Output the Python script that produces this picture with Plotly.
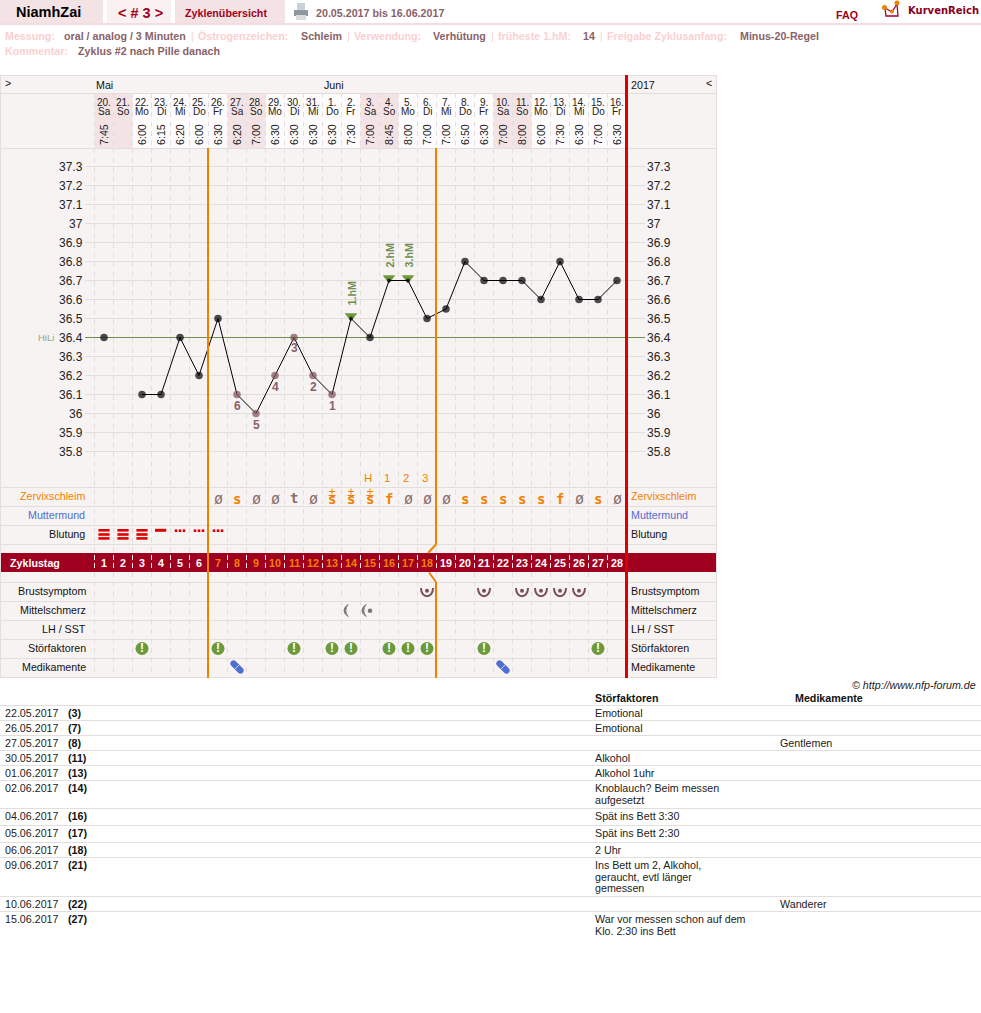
import plotly.graph_objects as go

# ---------------- data ----------------
CYCLE_DAYS = list(range(1, 29))
DATES = ["20.","21.","22.","23.","24.","25.","26.","27.","28.","29.","30.","31.","1.","2.","3.","4.","5.","6.","7.","8.","9.","10.","11.","12.","13.","14.","15.","16."]
WEEKDAYS = ["Sa","So","Mo","Di","Mi","Do","Fr","Sa","So","Mo","Di","Mi","Do","Fr","Sa","So","Mo","Di","Mi","Do","Fr","Sa","So","Mo","Di","Mi","Do","Fr"]
TIMES = ["7:45",None,"6:00","6:15","6:20","6:00","6:30","6:20","7:00","6:30","6:30","6:30","6:30","7:30","7:00","8:45","8:00","7:00","7:00","6:50","6:30","7:00","8:00","6:00","7:30","6:30","7:00","6:30"]
TEMPS = [36.4,None,36.1,36.1,36.4,36.2,36.5,36.1,36.0,36.2,36.4,36.2,36.1,36.5,36.4,36.7,36.7,36.5,36.55,36.8,36.7,36.7,36.7,36.6,36.8,36.6,36.6,36.7]
TEMP_TICKS = [37.3,37.2,37.1,37.0,36.9,36.8,36.7,36.6,36.5,36.4,36.3,36.2,36.1,36.0,35.9,35.8]
TEMP_TICK_LABELS = ["37.3","37.2","37.1","37","36.9","36.8","36.7","36.6","36.5","36.4","36.3","36.2","36.1","36","35.9","35.8"]
COVER_LINE = 36.4
LOW_DAYS = [13,12,11,10,9,8]          # counted 1..6
PEAK_DAYS = [14,16,17]
PEAK_LABELS = ["1.hM","2.hM","3.hM"]
MARK_DAYS = [15,16,17,18]
MARK_LABELS = ["H","1","2","3"]
MUCUS = [None]*6 + ["ø","s","ø","ø","t","ø","s+","s+","s+","f","ø","ø","ø","s","s","s","s","s","f","ø","s","ø"]
BLEED_HEAVY = [1,2,3]
BLEED_MEDIUM = [4]
BLEED_SPOT = [5,6,7]
BREAST_DAYS = [18,21,23,24,25,26]
PAIN_LEFT_DAYS = [14]
PAIN_DOT_DAYS = [15]
DISTURB_DAYS = [3,7,11,13,14,16,17,18,21,27]
MED_DAYS = [8,22]
FERTILE_FROM_DAY = 7
FERTILE_TO_DAY = 18
WEEKEND_DAYS = [1,2,8,9,15,16,22,23]

NOTE_DATES = ["22.05.2017","26.05.2017","27.05.2017","30.05.2017","01.06.2017","02.06.2017","04.06.2017","05.06.2017","06.06.2017","09.06.2017","10.06.2017","15.06.2017"]
NOTE_CYCLE = ["(3)","(7)","(8)","(11)","(13)","(14)","(16)","(17)","(18)","(21)","(22)","(27)"]
NOTE_FACTORS = [["Emotional"],["Emotional"],[],["Alkohol"],["Alkohol 1uhr"],["Knoblauch? Beim messen","aufgesetzt"],["Spät ins Bett 3:30"],["Spät ins Bett 2:30"],["2 Uhr"],["Ins Bett um 2, Alkohol,","geraucht, evtl länger","gemessen"],[],["War vor messen schon auf dem","Klo. 2:30 ins Bett"]]
NOTE_MEDS = ["","","Gentlemen","","","","","","","","Wanderer",""]

# ---------------- page scale ----------------
W, H = 981, 1013
def xp(px): return (px - 85) / 19            # page pixel -> cycle-day axis
def yp(py): return 37.3 - (py - 166.5) / 190 # page pixel -> temperature axis
def ty(t): return 166.5 + (37.3 - t) * 190   # temperature -> page pixel

ARIAL = "Liberation Sans"
MONO = "DejaVu Sans Mono"
F = 10.7
RED = "#a00020"
BROWN = "#8a6167"
DARKBROWN = "#7a4f55"
PALE = "#fbd0d0"
BG = "#f8f3f3"
PINK = "#f4e3e5"
GRID = "#e2dedd"
ORANGE = "#f28000"
BLUE = "#4f6fd0"
GREEN = "#6b9a3a"
BAR = "#a00020"
REDLINE = "#dd0000"

shapes, annos = [], []

def rect(x0, y0, x1, y1, fill, layer="below"):
    shapes.append(dict(type="rect", xref="x", yref="y", x0=xp(x0), x1=xp(x1), y0=yp(y0), y1=yp(y1),
                       fillcolor=fill, line=dict(width=0), layer=layer))

def line(x0, y0, x1, y1, color=GRID, width=1, dash=None, layer="below"):
    shapes.append(dict(type="line", xref="x", yref="y", x0=xp(x0), x1=xp(x1), y0=yp(y0), y1=yp(y1),
                       line=dict(color=color, width=width, dash=dash or "solid"), layer=layer))

def T(x, y, s, size=F, color="#111", anchor="left", bold=False, italic=False, family=ARIAL, angle=0):
    if bold: s = f"<b>{s}</b>"
    if italic: s = f"<i>{s}</i>"
    annos.append(dict(x=xp(x - 1 if anchor == "left" else x), y=yp(y), xref="x", yref="y", text=s, showarrow=False,
                      xanchor=anchor, yanchor="middle", borderpad=0, textangle=angle,
                      font=dict(family=family, size=size, color=color)))

def glyph(day, py, path, stroke=None, width=0, fill=None):
    shapes.append(dict(type="path", xref="x", yref="y", xsizemode="pixel", ysizemode="pixel",
                       xanchor=day, yanchor=yp(py), path=path, layer="above",
                       line=dict(color=stroke or "rgba(0,0,0,0)", width=width),
                       fillcolor=fill or "rgba(0,0,0,0)"))

# ---------------- page header ----------------
rect(0, 0, 103, 23, PINK)
rect(107, 0, 171, 23, "#f9f0f1")
rect(175, 0, 285, 23, PINK)
rect(0, 23, W, 25, "#f4dde0")
T(48.5, 12, "NiamhZai", 14.5, "#000", "center", True)
T(140, 12.5, "&lt; # 3 &gt;", 14.5, RED, "center", True)
T(185, 12.5, "Zyklenübersicht", F, RED, bold=True)
T(316, 12.5, "20.05.2017 bis 16.06.2017", F, BROWN, bold=True)
T(836, 14.5, "FAQ", F, RED, bold=True)
T(908, 10.5, "KurvenReich", 10, "#8a0020", bold=True, family="DejaVu Sans")

# printer icon
rect(297, 3, 305, 11, "#c9d2dc")
rect(294, 10, 308, 16, "#8e979e")
rect(296, 15, 306, 20, "#d9dde0")
# logo
shapes.append(dict(type="path", xref="x", yref="y", layer="below",
    path=f"M {xp(885)},{yp(8)} L {xp(886)},{yp(16)} L {xp(898)},{yp(16)} L {xp(897)},{yp(4)} L {xp(892)},{yp(12)} L {xp(885)},{yp(8)}",
    line=dict(color="#a00040", width=1.3)))
for cx, cy, r in [(884.5, 7.5, 2.5), (892, 11.5, 2), (897, 3, 2.5)]:
    shapes.append(dict(type="circle", xref="x", yref="y", layer="below", x0=xp(cx-r), x1=xp(cx+r), y0=yp(cy-r), y1=yp(cy+r),
                       fillcolor="#f08000", line=dict(width=0)))

for x, s in [(5,"Messung:"),(198,"Östrogenzeichen:"),(354,"Verwendung:"),(498,"früheste 1.hM:"),(607,"Freigabe Zyklusanfang:")]:
    T(x, 36, s, F, PALE, bold=True)
for x in [191,347,491,600]:
    T(x, 36, "|", F, PALE)
for x, s in [(64,"oral / analog / 3 Minuten"),(301,"Schleim"),(433,"Verhütung"),(583,"14"),(740,"Minus-20-Regel")]:
    T(x, 36, s, F, BROWN, bold=True)
T(5, 51, "Kommentar:", F, PALE, bold=True)
T(78, 51, "Zyklus #2 nach Pille danach", F, BROWN, bold=True)

# ---------------- chart frame ----------------
rect(0, 75, 717, 678, BG)
rect(94.5, 93, 626, 148, "#fdfbfb")
for d in WEEKEND_DAYS:
    rect(85 + 19*d - 9.5, 93, 85 + 19*d + 9.5, 148, "#f4e3e5")
rect(0, 553, 626, 572, BAR)
rect(628, 553, 717, 572, BAR)
for y in [75, 93, 148, 487, 506, 525, 544, 582, 601, 620, 639, 658, 677]:
    line(0.5, y + 0.5, 717, y + 0.5)
line(0.5, 75, 0.5, 678)
line(716.5, 75, 716.5, 678)

# temperature grid (through the temperature axis itself)
for t in TEMP_TICKS:
    shapes.append(dict(type="line", xref="x", yref="y", x0=xp(85), x1=xp(645), y0=t, y1=t,
                       line=dict(color=GRID, width=1), layer="below"))
for k in range(29):
    x = 94.5 + 19*k
    line(x, 148, x, 553, dash="5px,4.5px")
    line(x, 572, x, 677, dash="5px,4.5px")
    line(x, 93, x, 148, dash="5px,4.5px")
    if k < 28:
        line(x, 555, x, 571, "#f8e8e8", 1, "5px,3px")
shapes.append(dict(type="line", xref="x", yref="y", x0=xp(85), x1=xp(645), y0=COVER_LINE, y1=COVER_LINE,
                   line=dict(color="#6f8f4f", width=1), layer="below"))

# cycle phase and end lines
ax = 85 + 19*(FERTILE_FROM_DAY - 0.5) - 0.5
bx = 85 + 19*(FERTILE_TO_DAY + 0.5) - 0.5
line(ax, 148, ax, 678, ORANGE, 2, layer="above")
for x0, y0, x1, y1 in [(bx,148,bx,544.5),(bx,544.5,bx-8,553),(bx-7,572.5,bx,582),(bx,582,bx,678)]:
    line(x0, y0, x1, y1, ORANGE, 2, layer="above")
rect(625, 75, 628, 678, REDLINE, "above")

# ---------------- header texts ----------------
T(5, 83, "&gt;", F, "#111")
T(706, 83, "&lt;", F, "#111")
T(96, 85, "Mai", F)
T(324, 85, "Juni", F)
T(631, 85, "2017", F)
for d, ds, wd, tm in zip(CYCLE_DAYS, DATES, WEEKDAYS, TIMES):
    x = 85 + 19*d
    T(x, 102, ds, 10, "#222", "center")
    T(x, 111.5, wd, 10, "#222", "center")
    if tm:
        T(x, 135, tm, F, "#222", "center", angle=-90)

# ---------------- temperature labels ----------------
for t, lab in zip(TEMP_TICKS, TEMP_TICK_LABELS):
    T(84, ty(t), lab, 12, "#222", "right")
    T(647, ty(t), lab, 12, "#222", "left")
T(55, 337, "HiLi", 9.5, "#8fa878", "right")

# ---------------- row labels ----------------
T(85.5, 496, "Zervixschleim", F, ORANGE, "right")
T(85.5, 515, "Muttermund", F, BLUE, "right")
T(85.5, 534, "Blutung", F, "#111", "right")
for y, s in [(591,"Brustsymptom"),(610,"Mittelschmerz"),(629,"LH / SST"),(648,"Störfaktoren"),(667,"Medikamente")]:
    T(87, y, s, F, "#111", "right")
for y, s, c in [(496,"Zervixschleim",ORANGE),(515,"Muttermund",BLUE),(534,"Blutung","#111"),(591,"Brustsymptom","#111"),(610,"Mittelschmerz","#111"),(629,"LH / SST","#111"),(648,"Störfaktoren","#111"),(667,"Medikamente","#111")]:
    T(631, y, s, F, c)
T(10, 563, "Zyklustag", F, "#fff", bold=True)
for d in CYCLE_DAYS:
    c = ORANGE if FERTILE_FROM_DAY <= d <= FERTILE_TO_DAY else "#fff"
    T(85 + 19*d, 563, str(d), F, c, "center", True)

# ---------------- symptom rows ----------------
for d, lab in zip(MARK_DAYS, MARK_LABELS):
    T(85 + 19*d - 2, 478, lab, 11.5, ORANGE, "center")
for d, m in zip(CYCLE_DAYS, MUCUS):
    if not m:
        continue
    x = 85 + 19*d
    if m == "ø":
        T(x, 498.5, "ø", 15, "#8a6a6a", "center", family=MONO)
    elif m == "t":
        T(x, 498, "t", 14, "#8a6a6a", "center", True, family=MONO)
    elif m == "s+":
        T(x, 499, "s", 14, ORANGE, "center", True, family=MONO)
        glyph(d, 491.5, "M -3,0 L 3,0 M 0,-3 L 0,3", ORANGE, 1)
        glyph(d, 495.5, "M -3.5,0 L 3.5,0", ORANGE, 1)
    else:
        T(x, 499, m, 14, ORANGE, "center", True, family=MONO)

for d, lab in zip(LOW_DAYS[::-1], ["6","5","4","3","2","1"]):
    T(85 + 19*d, ty(TEMPS[d-1]) + (10.5 if lab == "3" else 11.5), lab, 12, BROWN, "center", True)
for d, lab in zip(PEAK_DAYS, PEAK_LABELS):
    T(85 + 19*d, ty(TEMPS[d-1]) - 25, lab, F, "#6f8f50", "center", True, angle=-90)

# pictograms anchored on the day axis
for d in BREAST_DAYS:
    glyph(d, 590, "M -6,2 C -6,-9 6,-9 6,2", DARKBROWN, 2)
for d in PAIN_LEFT_DAYS:
    glyph(d, 610.5, "M -3,6 Q -11,0 -3,-6 Q -7.5,0 -3,6 Z", "#777", 1, "#777")
for d in PAIN_DOT_DAYS:
    glyph(d, 610.5, "M -4,6 Q -12,0 -4,-6 Q -8.5,0 -4,6 Z", "#777", 1, "#777")
for d in MED_DAYS:
    # capsule lying diagonally, two halves with a pale seam
    glyph(d, 667, "M -1.24,5.76 L 5.76,-1.24 C 8.76,-4.24 4.24,-8.76 1.24,-5.76 L -5.76,1.24 C -8.76,4.24 -4.24,8.76 -1.24,5.76 Z", None, 0, BLUE)
    glyph(d, 667, "M -2.3,-2.3 L 2.3,2.3", "#c8d2f0", 1)

# ---------------- notes table ----------------
T(977, 685, "©&nbsp;http://www.nfp-forum.de", F, "#222", "right", italic=True)
T(595, 698, "Störfaktoren", F, "#111", bold=True)
T(795, 698, "Medikamente", F, "#111", bold=True)
for y in [705, 720, 735, 750, 765, 780, 808, 825, 842, 857, 896, 911]:
    line(0, y + 0.5, W, y + 0.5)
NOTE_Y = [713, 728, 743, 758, 773, 788, 816, 833, 850, 865, 904, 919]
for y, dt, c, fac, med in zip(NOTE_Y, NOTE_DATES, NOTE_CYCLE, NOTE_FACTORS, NOTE_MEDS):
    T(5, y, dt, F, "#222")
    T(68, y, c, F, "#111", bold=True)
    for i, s in enumerate(fac):
        T(595, y + i*11.5, s, F, "#222")
    if med:
        T(780, y, med, F, "#222")

# ---------------- traces ----------------
fig = go.Figure()
fig.add_scatter(x=PEAK_DAYS, y=[TEMPS[d-1] + 2.5/190 for d in PEAK_DAYS], mode="markers",
                marker=dict(symbol="triangle-down", size=11, color=GREEN, line=dict(width=0)))
colors = [DARKBROWN if d in LOW_DAYS else "#000" for d in CYCLE_DAYS]
sizes = [4 if d in PEAK_DAYS else 7.5 for d in CYCLE_DAYS]
fig.add_scatter(x=CYCLE_DAYS, y=TEMPS, mode="lines+markers", connectgaps=False,
                line=dict(color="#000", width=1),
                marker=dict(symbol="circle", size=sizes, color=colors, line=dict(width=0)))
# bleeding
hx, hy = [], []
for d in BLEED_HEAVY:
    for py in (530.3, 534.5, 538.4):
        hx.append(d); hy.append(yp(py))
fig.add_scatter(x=hx, y=hy, mode="markers",
                marker=dict(symbol="line-ew", size=8, line=dict(color=REDLINE, width=2.6)))
fig.add_scatter(x=[d - 0.02 for d in BLEED_MEDIUM], y=[yp(530.3)] * len(BLEED_MEDIUM), mode="markers",
                marker=dict(symbol="line-ew", size=8, line=dict(color=REDLINE, width=3)))
sx, sy = [], []
for d in BLEED_SPOT:
    for off in (-4, 0, 4):
        sx.append(d + off/19); sy.append(yp(530.7))
fig.add_scatter(x=sx, y=sy, mode="markers", marker=dict(symbol="square", size=2.6, color=REDLINE, line=dict(width=0)))
# breast symptom centre dots, mid-pain dot
fig.add_scatter(x=BREAST_DAYS, y=[yp(590.7)]*len(BREAST_DAYS), mode="markers",
                marker=dict(size=4, color=DARKBROWN, line=dict(width=0)))
fig.add_scatter(x=PAIN_DOT_DAYS, y=[yp(610.7)]*len(PAIN_DOT_DAYS), mode="markers",
                marker=dict(size=4.5, color="#777", line=dict(width=0)))
# disturbances
fig.add_scatter(x=DISTURB_DAYS, y=[yp(648.5)]*len(DISTURB_DAYS), mode="markers+text", text=["<b>!</b>"]*len(DISTURB_DAYS),
                textposition="middle center", textfont=dict(family=ARIAL, size=12, color="#fff"),
                marker=dict(size=13, color=GREEN, line=dict(width=0)))

fig.update_layout(
    width=W, height=H, autosize=False, margin=dict(l=0, r=0, t=0, b=0, pad=0),
    paper_bgcolor="#fff", plot_bgcolor="#fff", showlegend=False, hovermode=False,
    shapes=shapes, annotations=annos,
    xaxis=dict(range=[xp(0), xp(W)], visible=False, fixedrange=True),
    yaxis=dict(range=[yp(H), yp(0)], visible=False, fixedrange=True),
)
fig.write_html("out.html", config=dict(displayModeBar=False),
               post_script="document.body.style.margin='0';document.documentElement.style.overflow='hidden';")
